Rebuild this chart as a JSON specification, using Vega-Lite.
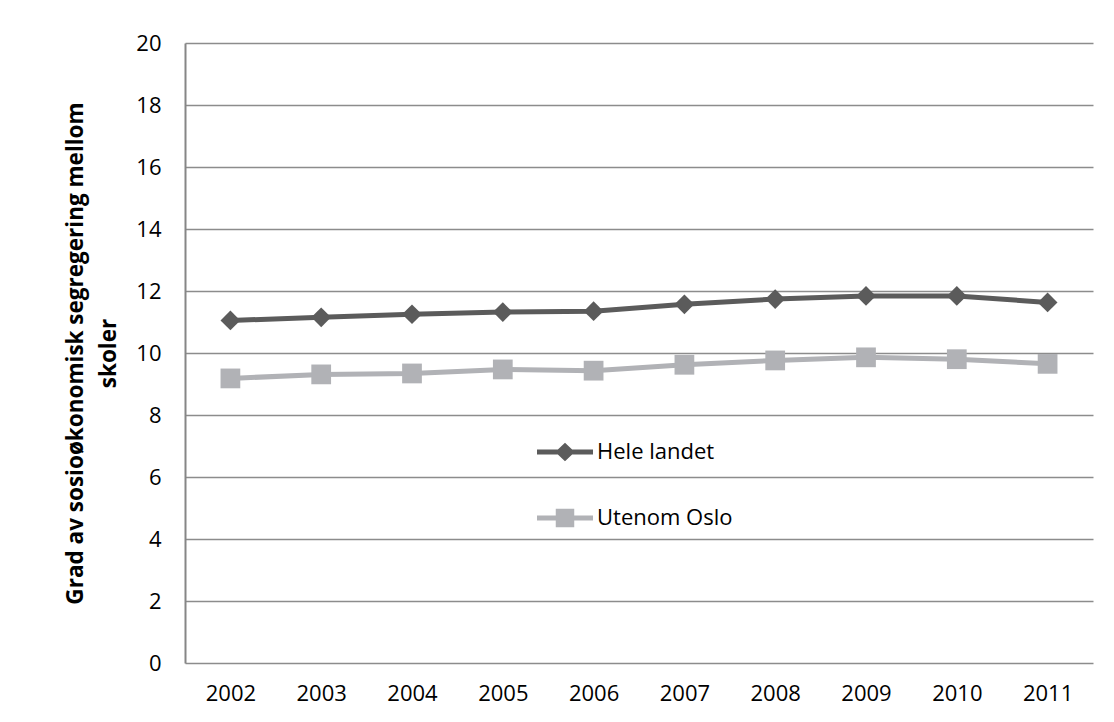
{
  "$schema": "https://vega.github.io/schema/vega-lite/v6.json",
  "width": 908,
  "height": 620,
  "autosize": {"type": "none"},
  "padding": {"left": 185, "top": 43, "right": 21, "bottom": 59},
  "background": "white",
  "config": {"view": {"stroke": null}, "font": "Open Sans"},
  "data": {
    "values": [
      {"year": "2002", "series": "Hele landet", "value": 11.05},
      {"year": "2003", "series": "Hele landet", "value": 11.15},
      {"year": "2004", "series": "Hele landet", "value": 11.25},
      {"year": "2005", "series": "Hele landet", "value": 11.32},
      {"year": "2006", "series": "Hele landet", "value": 11.35},
      {"year": "2007", "series": "Hele landet", "value": 11.57},
      {"year": "2008", "series": "Hele landet", "value": 11.74},
      {"year": "2009", "series": "Hele landet", "value": 11.84},
      {"year": "2010", "series": "Hele landet", "value": 11.84},
      {"year": "2011", "series": "Hele landet", "value": 11.63},
      {"year": "2002", "series": "Utenom Oslo", "value": 9.18},
      {"year": "2003", "series": "Utenom Oslo", "value": 9.31},
      {"year": "2004", "series": "Utenom Oslo", "value": 9.34},
      {"year": "2005", "series": "Utenom Oslo", "value": 9.47},
      {"year": "2006", "series": "Utenom Oslo", "value": 9.43},
      {"year": "2007", "series": "Utenom Oslo", "value": 9.62},
      {"year": "2008", "series": "Utenom Oslo", "value": 9.76},
      {"year": "2009", "series": "Utenom Oslo", "value": 9.86},
      {"year": "2010", "series": "Utenom Oslo", "value": 9.8},
      {"year": "2011", "series": "Utenom Oslo", "value": 9.65}
    ]
  },
  "encoding": {
    "x": {
      "field": "year",
      "type": "ordinal",
      "scale": {"type": "point", "padding": 0.5},
      "axis": {
        "title": null,
        "labelAngle": 0,
        "ticks": false,
        "domain": false,
        "grid": false,
        "labelFontSize": 22,
        "labelColor": "black",
        "labelPadding": 20
      }
    },
    "y": {
      "field": "value",
      "type": "quantitative",
      "scale": {"domain": [0, 20], "nice": false},
      "axis": {
        "values": [0, 2, 4, 6, 8, 10, 12, 14, 16, 18, 20],
        "grid": true,
        "gridColor": "#8c8c8c",
        "gridWidth": 1.5,
        "domainColor": "#868686",
        "domainWidth": 2,
        "ticks": false,
        "labelFontSize": 22,
        "labelColor": "black",
        "labelPadding": 24,
        "title": ["Grad av sosioøkonomisk segregering mellom", "skoler"],
        "titleFontSize": 22.5,
        "titleFontWeight": "bold",
        "titleColor": "black",
        "titlePadding": 15,
        "titleLineHeight": 33
      }
    }
  },
  "layer": [
    {
      "mark": {"type": "line", "strokeWidth": 5},
      "encoding": {
        "color": {
          "field": "series",
          "type": "nominal",
          "scale": {"domain": ["Hele landet", "Utenom Oslo"], "range": ["#5b5b5b", "#b1b2b6"]},
          "legend": {
            "title": null,
            "orient": "none",
            "legendX": 352,
            "legendY": 381,
            "padding": 0,
            "symbolSize": 3136,
            "rowPadding": 27,
            "labelFontSize": 22,
            "labelColor": "black",
            "labelOffset": 4,
            "encode": {
              "symbols": {
                "update": {
                  "shape": {"signal": "datum.value === 'Hele landet' ? 'M-1,-0.09L-0.255,-0.09L0,-0.33L0.255,-0.09L1,-0.09L1,0.09L0.255,0.09L0,0.33L-0.255,0.09L-1,0.09Z' : 'M-1,-0.09L-0.33,-0.09L-0.33,-0.33L0.33,-0.33L0.33,-0.09L1,-0.09L1,0.09L0.33,0.09L0.33,0.33L-0.33,0.33L-0.33,0.09L-1,0.09Z'"},
                  "fill": {"signal": "datum.value === 'Hele landet' ? '#5b5b5b' : '#b1b2b6'"},
                  "stroke": {"value": "transparent"},
                  "strokeWidth": {"value": 0},
                  "opacity": {"value": 1},
                  "fillOpacity": {"value": 1}
                }
              }
            }
          }
        }
      }
    },
    {
      "transform": [{"filter": "datum.series === 'Hele landet'"}],
      "mark": {"type": "point", "filled": true, "opacity": 1, "size": 390, "shape": "diamond", "color": "#5b5b5b"}
    },
    {
      "transform": [{"filter": "datum.series === 'Utenom Oslo'"}],
      "mark": {"type": "point", "filled": true, "opacity": 1, "size": 390, "shape": "square", "color": "#b1b2b6"}
    }
  ]
}
